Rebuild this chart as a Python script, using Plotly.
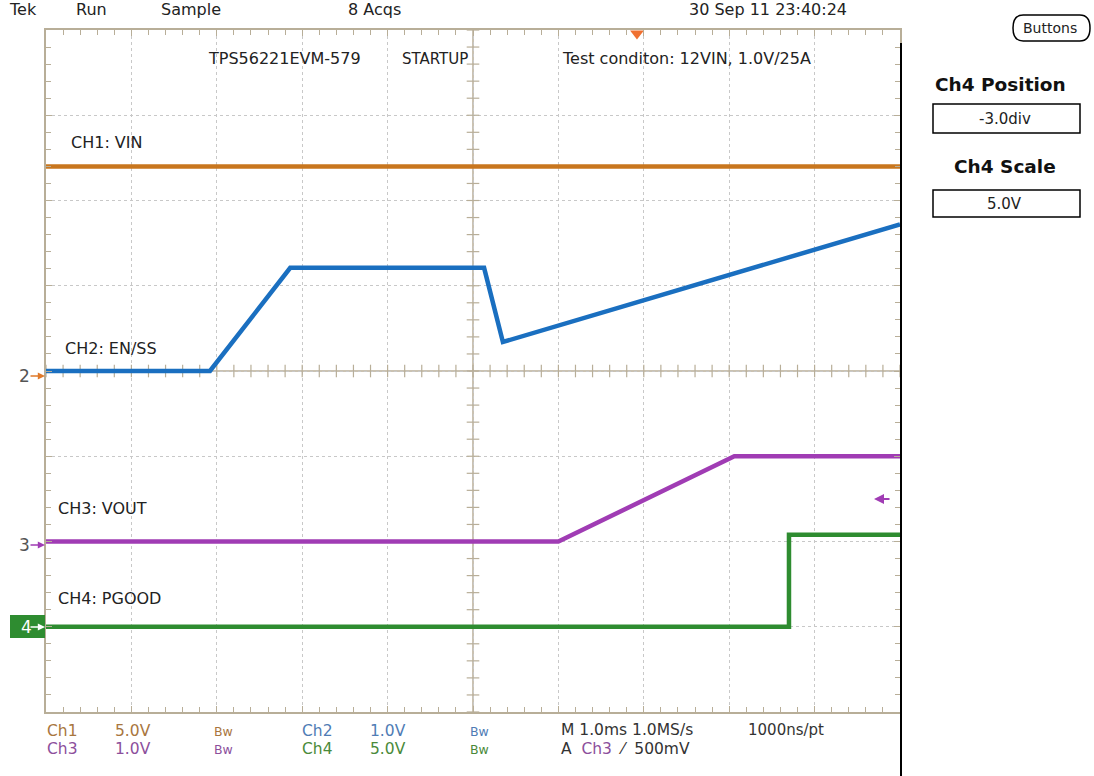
import numpy as np
import plotly.graph_objects as go

# ---------------- data (time in ms, values in volts) ----------------
ch1_t = [0.0, 10.0]
ch1_v = [12.0, 12.0]                       # VIN
ch2_t = [0.0, 1.92, 2.86, 5.13, 5.35, 10.0]
ch2_v = [0.0, 0.0, 1.21, 1.21, 0.34, 1.72]  # EN/SS
ch3_t = [0.0, 6.0, 8.06, 10.0]
ch3_v = [0.0, 0.0, 1.0, 1.0]                # VOUT
ch4_t = [0.0, 8.70, 8.70, 10.0]
ch4_v = [0.0, 0.0, 5.4, 5.4]                # PGOOD

ch_names = ["CH1: VIN", "CH2: EN/SS", "CH3: VOUT", "CH4: PGOOD"]
ch_scale = [5.0, 1.0, 1.0, 5.0]      # V/div
ch_offset = [0.0, 0.0, -2.0, -3.0]   # div
ch_color = ["#c8761e", "#1a6fc0", "#a03cb4", "#2e8c30"]
trig_level = 0.5   # V on Ch3
trig_time = 6.92   # ms

W, H = 1094, 776
L, R, T, B = 46, 900, 30, 712
FONT = "DejaVu Sans, Liberation Sans, Arial, sans-serif"
TAN = "#b8ae98"
GRID = "#c8c8c8"


def P(px, py):
    return (px - L) / (R - L), (B - py) / (B - T)


fig = go.Figure()

# center cross tick marks
xt = np.round(np.arange(0, 10.0001, 0.2), 3)
yt = np.round(np.arange(-4, 4.0001, 0.2), 3)
fig.add_trace(go.Scatter(x=xt, y=[0] * len(xt), mode="markers", hoverinfo="skip",
                         marker=dict(symbol="line-ns", size=9, line=dict(width=1.2, color=TAN))))
fig.add_trace(go.Scatter(x=[5] * len(yt), y=yt, mode="markers", hoverinfo="skip",
                         marker=dict(symbol="line-ew", size=9, line=dict(width=1.2, color=TAN))))

series = [(ch1_t, ch1_v), (ch2_t, ch2_v), (ch3_t, ch3_v), (ch4_t, ch4_v)]
for i in [3, 2, 1, 0]:
    t, v = series[i]
    y = np.array(v) / ch_scale[i] + ch_offset[i]
    fig.add_trace(go.Scatter(x=t, y=y, mode="lines", name=ch_names[i],
                             line=dict(color=ch_color[i], width=4.5)))

# trigger position marker
fig.add_trace(go.Scatter(x=[trig_time], y=[3.96], mode="markers", cliponaxis=False, hoverinfo="skip",
                         marker=dict(symbol="triangle-down", size=12, color="#f07030")))

shapes = [
    dict(type="line", xref="x", yref="paper", x0=5, x1=5, y0=0, y1=1, layer="below",
         line=dict(color=TAN, width=1.5)),
    dict(type="line", xref="paper", yref="y", x0=0, x1=1, y0=0, y1=0, layer="below",
         line=dict(color=TAN, width=1.5)),
]
# right black rule
x0, y0 = P(901, 776)
_, y1 = P(901, 43)
shapes.append(dict(type="line", xref="paper", yref="paper", x0=x0, x1=x0, y0=y0, y1=y1,
                   line=dict(color="black", width=2)))
# ch4 marker box
a, b = P(10, 638)
c, d = P(45, 615)
shapes.append(dict(type="rect", xref="paper", yref="paper", x0=a, x1=c, y0=b, y1=d,
                   fillcolor="#2e8c30", line=dict(width=0)))
# right panel boxes
for (bx0, by0, bx1, by1) in [(933, 104, 1080, 133), (933, 190, 1080, 217)]:
    a, b = P(bx0, by1)
    c, d = P(bx1, by0)
    shapes.append(dict(type="rect", xref="paper", yref="paper", x0=a, x1=c, y0=b, y1=d,
                       line=dict(color="black", width=1.5), fillcolor="white"))
# Buttons rounded box
a, b = P(1013, 41)
c, d = P(1090, 15)
shapes.append(dict(type="path", xref="paper", yref="paper",
                   path=f"M {a+0.012},{b} L {c-0.012},{b} Q {c},{b} {c},{(b+d)/2} Q {c},{d} {c-0.012},{d} "
                        f"L {a+0.012},{d} Q {a},{d} {a},{(b+d)/2} Q {a},{b} {a+0.012},{b} Z",
                   line=dict(color="black", width=1.5)))

anns = []


def ann(text, px, py, color="#222", size=16, anchor="left", bold=False):
    x, y = P(px, py)
    if bold:
        text = f"<b>{text}</b>"
    anns.append(dict(text=text, x=x, y=y, xref="paper", yref="paper", showarrow=False,
                     xanchor=anchor, yanchor="middle", xshift=-1,
                     font=dict(family=FONT, size=size, color=color)))


# top row
ann("Tek", 8, 9)
ann("Run", 75, 9)
ann("Sample", 160, 9)
ann("8 Acqs", 347, 9)
ann("30 Sep 11 23:40:24", 688, 9)
ann("Buttons", 1051, 28, anchor="center", size=14)
# inside plot
ann("TPS56221EVM-579", 207, 59)
ann("STARTUP", 401, 59, size=15)
ann("Test conditon: 12VIN, 1.0V/25A", 561, 59)
ann(ch_names[0], 70, 143)
ann(ch_names[1], 64, 348)
ann(ch_names[2], 57, 508)
ann(ch_names[3], 57, 598)
# right panel
ann("Ch4 Position", 1001, 84, color="#111", size=18.5, anchor="center", bold=True)
ann("-3.0div", 1006, 119, anchor="center", size=15)
ann("Ch4 Scale", 1006, 166, color="#111", size=18.5, anchor="center", bold=True)
ann("5.0V", 1006, 204, anchor="center", size=15)
# left channel markers
ann("2", 18, 376, color="#555", size=17)
ann("3", 18, 545, color="#555", size=17)
ann("4", 20, 627, color="white", size=17)
for py, col in [(376, "#e07a2a"), (545, "#a03cb4"), (627, "white")]:
    x, y = P(45, py)
    anns.append(dict(text="", x=x, y=y, xref="paper", yref="paper", showarrow=True, ax=-16, ay=0,
                     arrowhead=2, arrowsize=0.9, arrowwidth=1.6, arrowcolor=col))
# trigger level marker
x, y = P(874, 0)
anns.append(dict(text="", x=x, y=trig_level / ch_scale[2] + ch_offset[2], xref="paper", yref="y",
                 showarrow=True, ax=17, ay=0, arrowhead=2, arrowsize=1, arrowwidth=2,
                 arrowcolor="#a03cb4"))
# bottom readouts
C1, C2, C3, C4 = "#a8763e", "#4f7cb5", "#8c4f9c", "#4a8a3a"
row = [("Ch1", 46, C1), ("5.0V", 114, C1), ("Bw", 213, C1), ("Ch2", 301, C2), ("1.0V", 369, C2),
       ("Bw", 469, C2)]
for s, px, col in row:
    ann(s, px, 731, color=col, size=15.5 if s != "Bw" else 12.5)
row2 = [("Ch3", 46, C3), ("1.0V", 114, C3), ("Bw", 213, C3), ("Ch4", 301, C4), ("5.0V", 369, C4),
        ("Bw", 469, C4)]
for s, px, col in row2:
    ann(s, px, 749, color=col, size=15.5 if s != "Bw" else 12.5)
ann("M 1.0ms 1.0MS/s", 560, 730, color="#333", size=15.5)
ann("1000ns/pt", 747, 730, color="#333", size=15)
ann(f"A  <span style='color:{C3}'>Ch3</span>  ⁄  500mV", 560, 749, color="#333", size=15.5)

axis_common = dict(showgrid=True, gridcolor=GRID, griddash="dot", gridwidth=1, showline=True,
                   linecolor=TAN, linewidth=1.5, mirror="ticks", ticks="inside", ticklen=6,
                   tickcolor=TAN, tickwidth=1, showticklabels=False, zeroline=False, fixedrange=True,
                   minor=dict(ticks="inside", ticklen=5, tickcolor=TAN, tickwidth=1, showgrid=False))
fig.update_xaxes(range=[0, 10], dtick=1, minor_dtick=0.2, **axis_common)
fig.update_yaxes(range=[-4, 4], dtick=1, minor_dtick=0.2, **axis_common)

fig.update_layout(width=W, height=H, margin=dict(l=L, r=W - R, t=T, b=H - B),
                  paper_bgcolor="white", plot_bgcolor="white", showlegend=False,
                  shapes=shapes, annotations=anns, font=dict(family=FONT))
fig.write_html("out.html", config={"displayModeBar": False},
               post_script="document.body.style.margin='0';document.body.style.overflow='hidden';")
